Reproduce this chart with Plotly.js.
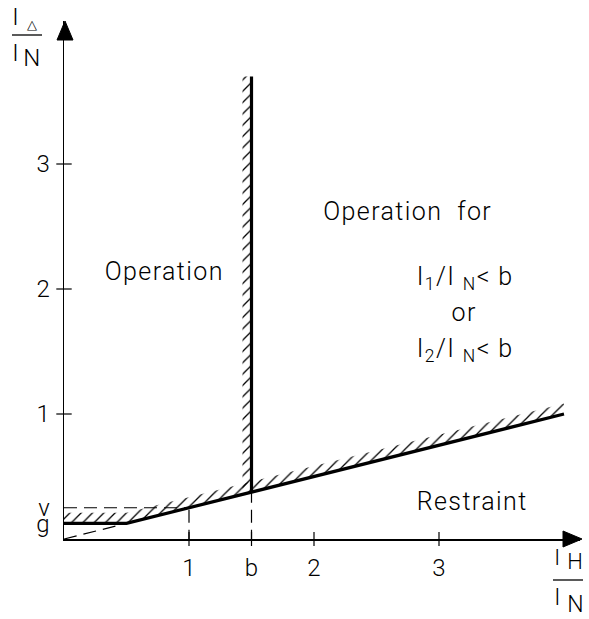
<!DOCTYPE html>
<html>
<head>
<meta charset="utf-8">
<script src="https://cdn.plot.ly/plotly-3.0.1.min.js"></script>
<style>html,body{margin:0;padding:0;background:#fff}#chart{width:589px;height:619px}
#chart .annotation-text{letter-spacing:1.4px}</style>
</head>
<body>
<div id="chart"></div>
<script>
// ---- data ----
const gVal = 0.125;
const vVal = 0.25;
const bVal = 1.5;
const charX = [0, 0.5, 4.0];
const charY = [0.125, 0.125, 1.0];
const limX = [1.5, 1.5];
const limY = [0.375, 3.7];
const slopeDashX = [0, 0.5];
const slopeDashY = [0, 0.125];
const vDashX = [0, 1];
const vDashY = [0.25, 0.25];
const oneDashX = [1, 1];
const oneDashY = [-0.03, 0.25];
const bDashX = [1.5, 1.5];
const bDashY = [-0.03, 0.375];
const xTickVals = [1, 1.5, 2, 3];
const xTickText = ['1', 'b', '2', '3'];
const yTickVals = [0.125, 0.25, 1, 2, 3];
const yTickText = ['g', 'v', '1', '2', '3'];
const yMarkVals = [1, 2, 3];

// ---- geometry / style ----
const W = 589, H = 619, L = 64, R = 9, T = 21, B = 80;
const pw = W - L - R, ph = H - T - B;
const scale = 125; // px per unit
const px = x => (x - L) / pw;           // pixel -> paper x
const py = y => (H - B - y) / ph;        // pixel -> paper y
const FONT = 'Roboto, "DejaVu Sans", sans-serif';
const FW = 300;
const hatchW = 0.085, hatchV = 0.072;

const bandX = charX.concat(charX.slice().reverse());
const bandY = charY.concat(charY.slice().reverse().map(v => v + hatchW));
const vbandX = [limX[0] - hatchV, limX[0], limX[1], limX[1] - hatchV];
const vbandY = [limY[0], limY[0], limY[1], limY[1]];

const pattern = {shape: '/', size: 8, solidity: 0.16, fgcolor: '#000', bgcolor: 'rgba(0,0,0,0)', fgopacity: 1};
const dashStyle = {color: '#000', width: 1.2, dash: '13px,7px'};

const traces = [
  {x: bandX, y: bandY, mode: 'lines', fill: 'toself', fillcolor: 'rgba(0,0,0,0)', fillpattern: pattern, line: {width: 0}, hoverinfo: 'skip'},
  {x: vbandX, y: vbandY, mode: 'lines', fill: 'toself', fillcolor: 'rgba(0,0,0,0)', fillpattern: pattern, line: {width: 0}, hoverinfo: 'skip'},
  {x: slopeDashX, y: slopeDashY, mode: 'lines', line: dashStyle},
  {x: vDashX, y: vDashY, mode: 'lines', line: dashStyle},
  {x: oneDashX, y: oneDashY, mode: 'lines', line: dashStyle, cliponaxis: false},
  {x: bDashX, y: bDashY, mode: 'lines', line: dashStyle, cliponaxis: false},
  {x: charX, y: charY, mode: 'lines', line: {color: '#000', width: 3.2}},
  {x: limX, y: limY, mode: 'lines', line: {color: '#000', width: 3.2}},
  {x: xTickVals, y: xTickVals.map(() => 0), mode: 'markers', cliponaxis: false,
   marker: {symbol: 'line-ns-open', size: 10, color: '#000', line: {color: '#000', width: 1.2}}},
  {x: yMarkVals.map(() => 0), y: yMarkVals, mode: 'markers', cliponaxis: false,
   marker: {symbol: 'line-ew-open', size: 11, color: '#000', line: {color: '#000', width: 1.2}}}
];

const txt = (x, y, text, size, ref) => ({x: x, y: y, xref: ref || 'x', yref: ref || 'y', text: text, showarrow: false,
  xanchor: 'center', yanchor: 'middle', font: {family: FONT, size: size, color: '#000', weight: FW}});

const annotations = [
  txt(0.80, 2.14, 'Operation', 25),
  txt(2.75, 2.62, 'Operation  for', 25),
  txt(3.21, 2.09, 'I<sub>1</sub>/I <sub>N</sub>< b', 25),
  txt(3.20, 1.81, 'or', 25),
  txt(3.21, 1.51, 'I<sub>2</sub>/I <sub>N</sub>< b', 25),
  txt(3.26, 0.30, 'Restraint', 25),
  // y-axis title pieces
  txt(px(16), py(17), 'I', 24, 'paper'),
  txt(px(33), py(25), '△', 13, 'paper'),
  txt(px(16), py(53), 'I', 24, 'paper'),
  txt(px(32), py(58), 'N', 24, 'paper'),
  // x-axis title pieces
  txt(px(558), py(557), 'I', 22, 'paper'),
  txt(px(576), py(561), 'H', 22, 'paper'),
  txt(px(558), py(597), 'I', 23, 'paper'),
  txt(px(576), py(604), 'N', 23, 'paper')
];

const shapes = [
  {type: 'line', xref: 'paper', yref: 'paper', x0: px(12), x1: px(42), y0: py(35), y1: py(35), line: {color: '#000', width: 1.3}},
  {type: 'line', xref: 'paper', yref: 'paper', x0: px(553), x1: px(583), y0: py(580), y1: py(580), line: {color: '#000', width: 1.3}},
  {type: 'path', xref: 'paper', yref: 'paper', fillcolor: '#000', line: {color: '#000', width: 1},
   path: `M ${px(582)},${py(539)} L ${px(563)},${py(531)} L ${px(563)},${py(547)} Z`},
  {type: 'path', xref: 'paper', yref: 'paper', fillcolor: '#000', line: {color: '#000', width: 1},
   path: `M ${px(65)},${py(21)} L ${px(57)},${py(40)} L ${px(73)},${py(40)} Z`}
];

const layout = {
  width: W, height: H,
  margin: {l: L, r: R, t: T, b: B, pad: 0},
  paper_bgcolor: '#fff', plot_bgcolor: '#fff',
  showlegend: false,
  font: {family: FONT, size: 24, color: '#000', weight: FW},
  xaxis: {range: [0, pw / scale], showgrid: false, zeroline: false, showline: true, linecolor: '#000', linewidth: 1.5,
          tickmode: 'array', tickvals: xTickVals, ticktext: xTickText, ticks: '', ticklabelstandoff: 7,
          tickfont: {family: FONT, size: 24, color: '#000', weight: FW}, fixedrange: true},
  yaxis: {range: [0, ph / scale], showgrid: false, zeroline: false, showline: true, linecolor: '#000', linewidth: 1.5,
          tickmode: 'array', tickvals: yTickVals, ticktext: yTickText, ticks: '', ticklabelstandoff: 8,
          tickfont: {family: FONT, size: 24, color: '#000', weight: FW}, fixedrange: true},
  annotations: annotations,
  shapes: shapes
};

Plotly.newPlot('chart', traces, layout, {displayModeBar: false, staticPlot: true});
</script>
</body>
</html>
